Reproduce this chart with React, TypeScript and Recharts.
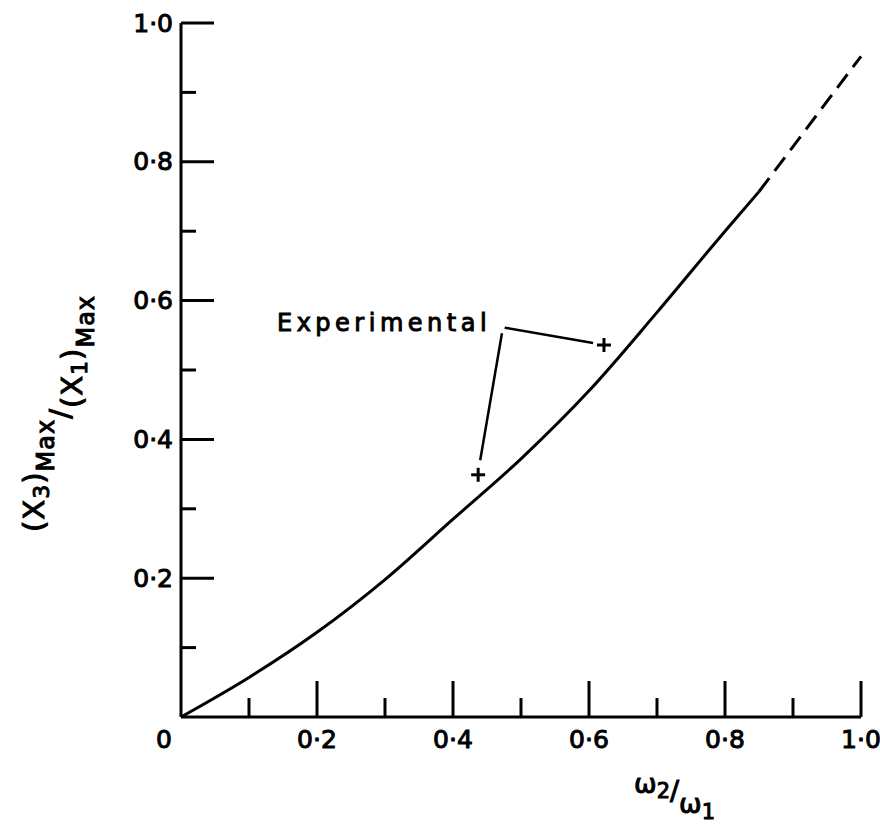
import React from 'react';
import {
  ComposedChart,
  Line,
  Scatter,
  XAxis,
  YAxis,
  ReferenceLine,
  Customized,
} from 'recharts';

// theory curve
const ratioX = [0, 0.1, 0.2, 0.3, 0.4, 0.5, 0.6, 0.7, 0.8, 0.85];
const ratioY = [0, 0.057, 0.122, 0.198, 0.285, 0.372, 0.47, 0.583, 0.7, 0.757];
// dashed extrapolation
const extrapX = [0.85, 0.9, 0.95, 1.0];
const extrapY = [0.757, 0.822, 0.887, 0.952];
// experimental points
const expX = [0.437, 0.622];
const expY = [0.349, 0.536];

const xTicks = [0, 0.1, 0.2, 0.3, 0.4, 0.5, 0.6, 0.7, 0.8, 0.9, 1.0];
const yTicks = [0.1, 0.2, 0.3, 0.4, 0.5, 0.6, 0.7, 0.8, 0.9, 1.0];

const solidData = ratioX.map((x, i) => ({ x, y: ratioY[i] }));
const dashData = extrapX.map((x, i) => ({ x, y: extrapY[i] }));
const expData = expX.map((x, i) => ({ x, y: expY[i] }));

const FONT = '"DejaVu Sans", sans-serif';
const fmt = (v: number) => (v === 0 ? '0' : v.toFixed(1).replace('.', '\u00b7'));
const isMajor = (v: number) => Math.round(v * 10) % 2 === 0;

const txt = { fontFamily: FONT, fill: '#000', stroke: '#000', strokeWidth: 1 };

const YTick = (props: any) => {
  const { x, y, payload } = props;
  const v = payload.value;
  const major = isMajor(v);
  return (
    <g>
      <line x1={x} y1={y} x2={x + (major ? 33 : 15)} y2={y} stroke="#000" strokeWidth={3} />
      {major && (
        <text x={x - 8} y={y} textAnchor="end" dominantBaseline="central" fontSize={25} {...txt}>
          {fmt(v)}
        </text>
      )}
    </g>
  );
};

const XTick = (props: any) => {
  const { x, y, payload } = props;
  const v = payload.value;
  const major = isMajor(v);
  return (
    <g>
      {v > 0 && <line x1={x} y1={y} x2={x} y2={y - (major ? 36 : 19)} stroke="#000" strokeWidth={3} />}
      {major && (
        <text x={v === 0 ? x - 17 : x} y={y + 22} textAnchor="middle" dominantBaseline="central" fontSize={25} {...txt}>
          {fmt(v)}
        </text>
      )}
    </g>
  );
};

const Cross = (props: any) => {
  const { cx, cy } = props;
  return (
    <g stroke="#000" strokeWidth={3}>
      <line x1={cx - 7} y1={cy} x2={cx + 7} y2={cy} />
      <line x1={cx} y1={cy - 7} x2={cx} y2={cy + 7} />
    </g>
  );
};

const Titles = () => (
  <g {...txt}>
    <text x={277} y={331} fontSize={24} letterSpacing={4.5}>
      Experimental
    </text>
    <text transform="translate(44,532) rotate(-90)" fontSize={29} letterSpacing={1}>
      <tspan>(X</tspan>
      <tspan fontSize={22} dy={5}>3</tspan>
      <tspan dy={-5}>)</tspan>
      <tspan fontSize={24} dy={10}>Max</tspan>
      <tspan dy={16}>/</tspan>
      <tspan dy={12}>(X</tspan>
      <tspan fontSize={22} dy={5}>1</tspan>
      <tspan dy={-5}>)</tspan>
      <tspan fontSize={24} dy={12}>Max</tspan>
    </text>
    <text x={634} y={793} fontSize={27}>
      <tspan>ω</tspan>
      <tspan fontSize={21} dy={5}>2</tspan>
      <tspan dy={2}>/</tspan>
      <tspan dy={13}>ω</tspan>
      <tspan fontSize={21} dy={6}>1</tspan>
    </text>
  </g>
);

export default function App() {
  return (
    <div style={{ position: 'absolute', left: 0, top: 0, width: 880, height: 827, background: '#fff' }}>
      <ComposedChart width={880} height={827} margin={{ top: 23, right: 19, bottom: 50, left: 121 }}>
        <XAxis
          dataKey="x"
          type="number"
          domain={[0, 1]}
          ticks={xTicks}
          tick={<XTick />}
          tickSize={0}
          tickMargin={0}
          tickLine={false}
          axisLine={{ stroke: '#000', strokeWidth: 3 }}
          height={60}
          interval={0}
        />
        <YAxis
          dataKey="y"
          type="number"
          domain={[0, 1]}
          ticks={yTicks}
          tick={<YTick />}
          tickSize={0}
          tickMargin={0}
          tickLine={false}
          axisLine={{ stroke: '#000', strokeWidth: 3 }}
          width={60}
          interval={0}
        />
        <ReferenceLine segment={[{ x: 0.472, y: 0.553 }, { x: 0.44, y: 0.37 }]} stroke="#000" strokeWidth={2.5} ifOverflow="visible" />
        <ReferenceLine segment={[{ x: 0.476, y: 0.561 }, { x: 0.606, y: 0.539 }]} stroke="#000" strokeWidth={2.5} ifOverflow="visible" />
        <Line data={solidData} dataKey="y" type="monotone" stroke="#000" strokeWidth={3} dot={false} isAnimationActive={false} />
        <Line data={dashData} dataKey="y" type="monotone" stroke="#000" strokeWidth={3} strokeDasharray="17 9" dot={false} isAnimationActive={false} />
        <Scatter data={expData} dataKey="y" shape={<Cross />} isAnimationActive={false} />
        <Customized component={Titles} />
      </ComposedChart>
    </div>
  );
}
